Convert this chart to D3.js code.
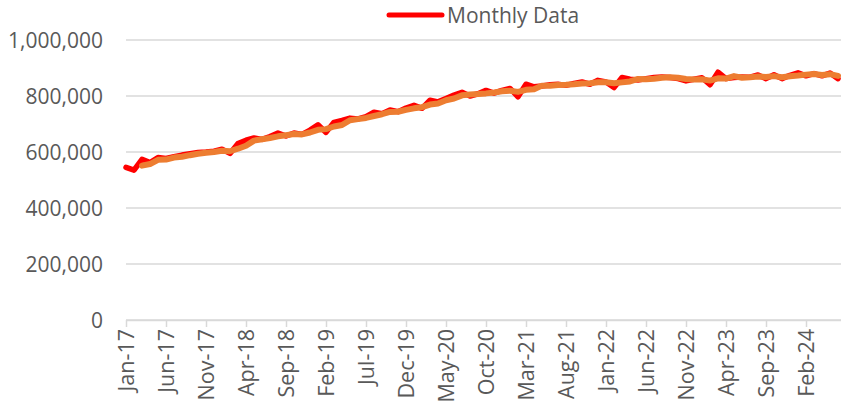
<!DOCTYPE html>
<html>
<head>
<meta charset="utf-8">
<script src="https://cdn.jsdelivr.net/npm/d3@7"></script>
<style>
  body { margin: 0; background: #fff; }
  text { font-family: "Open Sans", sans-serif; fill: #595959; }
</style>
</head>
<body>
<div id="chart"></div>
<script>
// Chart size
const width = 841,
  height = 409

// Monthly values, Jan-17 .. Jun-24
const monthly = [
  545000, 535000, 574000, 562000, 580000, 577000, 583000, 589000, 594000, 598000, 600000, 603000,
  610000, 595000, 630000, 642000, 650000, 645000, 655000, 668000, 657000, 668000, 663000, 678000,
  697000, 670000, 706000, 713000, 721000, 718000, 726000, 742000, 737000, 750000, 744000, 757000,
  767000, 756000, 785000, 779000, 791000, 803000, 813000, 800000, 808000, 820000, 810000, 820000,
  827000, 797000, 842000, 833000, 836000, 840000, 842000, 838000, 845000, 850000, 842000, 856000,
  850000, 830000, 866000, 860000, 857000, 862000, 866000, 868000, 866000, 862000, 854000, 860000,
  865000, 840000, 885000, 862000, 866000, 868000, 867000, 875000, 862000, 876000, 862000, 874000,
  883000, 872000, 880000, 872000, 882000, 862000
]

// x tick labels, one every 5 months
const tickLabels = ['Jan-17', 'Jun-17', 'Nov-17', 'Apr-18', 'Sep-18', 'Feb-19', 'Jul-19', 'Dec-19',
  'May-20', 'Oct-20', 'Mar-21', 'Aug-21', 'Jan-22', 'Jun-22', 'Nov-22', 'Apr-23', 'Sep-23', 'Feb-24']
const yTicks = [0, 200000, 400000, 600000, 800000, 1000000]

// 3 month moving average trendline
const period = 3
const trend = monthly.map((v, i) => i < period - 1 ? null : d3.mean(monthly.slice(i - period + 1, i + 1)))

let svg = d3.select('#chart')
  .append('svg')
  .attr('width', width)
  .attr('height', height)

const x = d3.scaleLinear()
  .domain([0, monthly.length - 1])
  .range([126, 838])

const y = d3.scaleLinear()
  .domain([0, 1000000])
  .range([320, 40])

// gridlines
svg.append('g')
  .selectAll('line')
  .data(yTicks)
  .enter()
  .append('line')
  .attr('x1', 126)
  .attr('x2', width)
  .attr('y1', d => y(d))
  .attr('y2', d => y(d))
  .attr('stroke', '#d9d9d9')
  .attr('stroke-width', 1.5)

// y labels
svg.append('g')
  .selectAll('text')
  .data(yTicks)
  .enter()
  .append('text')
  .attr('x', 103)
  .attr('y', d => y(d))
  .attr('dy', '0.36em')
  .attr('text-anchor', 'end')
  .style('font-size', '21px')
  .text(d => d3.format(',')(d))

// x axis
const xAxis = svg.append('g')
  .attr('transform', `translate(0, ${y(0)})`)
  .call(d3.axisBottom(x)
    .tickValues(tickLabels.map((d, i) => i * 5))
    .tickFormat((d, i) => tickLabels[i])
    .tickSize(7)
    .tickPadding(6))

xAxis.select('.domain').attr('stroke', '#d9d9d9').attr('stroke-width', 1.5)
  .attr('d', `M126,0.5H${width}`)
xAxis.selectAll('.tick line').attr('stroke', '#d9d9d9').attr('stroke-width', 1.5)
xAxis.selectAll('.tick text')
  .attr('fill', '#595959')
  .style('font-family', '"Open Sans", sans-serif')
  .style('font-size', '21.5px')
  .attr('text-anchor', 'end')
  .attr('transform', 'rotate(-90)')
  .attr('x', -9)
  .attr('y', 0)
  .attr('dy', '0.36em')

// series lines
const line = d3.line()
  .defined(d => d !== null)
  .x((d, i) => x(i))
  .y(d => y(d))

svg.append('path')
  .datum(monthly)
  .attr('fill', 'none')
  .attr('stroke', '#ff0000')
  .attr('stroke-width', 5.5)
  .attr('stroke-linejoin', 'round')
  .attr('stroke-linecap', 'round')
  .attr('d', line)

svg.append('path')
  .datum(trend)
  .attr('fill', 'none')
  .attr('stroke', '#ed7d31')
  .attr('stroke-width', 6)
  .attr('stroke-linejoin', 'round')
  .attr('stroke-linecap', 'round')
  .attr('d', line)

// legend
const legend = svg.append('g')
legend.append('line')
  .attr('x1', 389)
  .attr('x2', 442)
  .attr('y1', 15)
  .attr('y2', 15)
  .attr('stroke', '#ff0000')
  .attr('stroke-width', 5)
  .attr('stroke-linecap', 'round')
legend.append('text')
  .attr('x', 447)
  .attr('y', 15)
  .attr('dy', '0.36em')
  .style('font-size', '21px')
  .text('Monthly Data')
</script>
</body>
</html>
